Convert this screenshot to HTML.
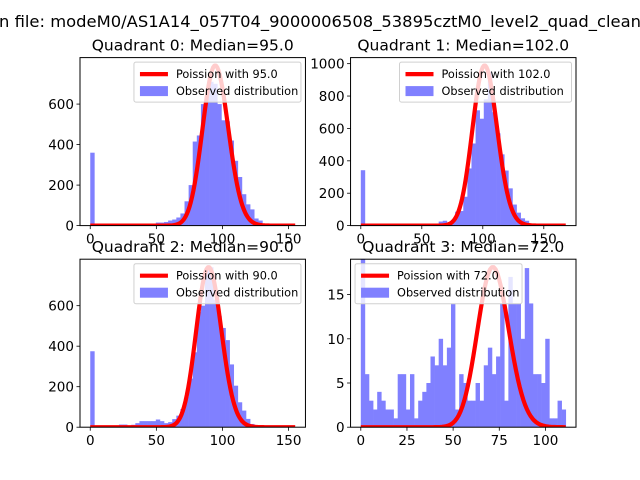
<!DOCTYPE html>
<html><head><meta charset="utf-8"><style>
html,body{margin:0;padding:0;background:#fff;}
svg{display:block;font-family:"DejaVu Sans","Liberation Sans",sans-serif;}
</style></head><body>
<svg id="chart" width="640" height="480" viewBox="0 0 640 480">
<text x="-1" y="27" font-size="16" textLength="642" lengthAdjust="spacingAndGlyphs" fill="#000">n file: modeM0/AS1A14_057T04_9000006508_53895cztM0_level2_quad_clean</text>
</svg>
<script>
const titles = ["Quadrant 0: Median=95.0","Quadrant 1: Median=102.0","Quadrant 2: Median=90.0","Quadrant 3: Median=72.0"];
const lambdas = [95, 102, 90, 72];
const curvePeaks = [790, 988, 790, 18.1];
const dataMax = [155, 168, 155, 111];
const counts0 = [360,1,1,1,1,1,1,1,1,1,1,1,1,3,5,8,15,15,18,25,30,40,60,120,200,415,445,600,640,710,700,600,520,515,420,320,240,155,105,80,35,25,10,5,3,1,1,1,1,1];
const counts1 = [342,0,0,0,0,0,0,0,0,0,0,0,0,0,0,0,1,2,10,25,30,15,35,86,90,178,353,507,712,660,780,950,700,570,440,340,230,130,80,45,30,8,3,1,1,1,0,0,0,1];
const counts2 = [375,0,0,0,0,2,8,13,13,5,12,20,30,30,30,30,38,30,20,25,40,57,90,150,240,370,570,600,780,790,630,550,490,430,310,205,123,82,41,16,10,3,2,1,1,0,0,0,0,1];
const counts3 = [20,6,3,2,4,3,2,2,1,6,6,2,6,1,3,4,5,8,7,10,7,9,14,2,6,5,3,3,5,3,7,9,6,8,14,3,17,14,14,10,18,14,6,6,5,10,1,1,3,2];
const yTicks0 = [0,200,400,600];
const yTicks1 = [0,200,400,600,800,1000];
const yTicks2 = [0,200,400,600];
const yTicks3 = [0,5,10,15];
const xTicks0 = [0,50,100,150];
const xTicks1 = [0,50,100,150];
const xTicks2 = [0,50,100,150];
const xTicks3 = [0,25,50,75,100];

const allCounts=[counts0,counts1,counts2,counts3];
const allY=[yTicks0,yTicks1,yTicks2,yTicks3];
const allX=[xTicks0,xTicks1,xTicks2,xTicks3];
const NS="http://www.w3.org/2000/svg";
const svg=document.getElementById('chart');
const boxes=[[80,57.6],[350.55,57.6],[80,259.2],[350.55,259.2]];
const W=225.45,H=168;
function mk(t,a,p){const e=document.createElementNS(NS,t);for(const k in a)e.setAttribute(k,a[k]);(p||svg).appendChild(e);return e;}
function lgamma(z){let s=0;while(z<7){s-=Math.log(z);z+=1;}const z2=1/(z*z);return s+(z-0.5)*Math.log(z)-z+0.9189385332+(1/12-z2*(1/360-z2/1260))/z;}
function pmf(k,l){return Math.exp(k*Math.log(l)-l-lgamma(k+1));}

for(let q=0;q<4;q++){
  const [L,T]=boxes[q];
  const xm=dataMax[q], x0=-0.05*xm, x1=xm*1.05;
  const ymax=curvePeaks[q]*1.05;
  const sx=v=>L+(v-x0)/(x1-x0)*W;
  const sy=v=>T+H-v/ymax*H;
  const g=mk('g',{});
  
  
  const cp=mk('clipPath',{id:'cp'+q},g);
  mk('rect',{x:L,y:T,width:W,height:H},cp);
  const plot=mk('g',{'clip-path':'url(#cp'+q+')'},g);
  const c=allCounts[q], n=c.length, bw=xm/n;
  for(let i=0;i<n;i++){
    if(c[i]<=0)continue;
    const r=mk('rect',{x:sx(i*bw),y:sy(c[i]),width:sx((i+1)*bw)-sx(i*bw)+0.3,height:sy(0)-sy(c[i]),fill:'#8080ff'},plot);
    
    
  }
  const l=lambdas[q], pk=pmf(Math.floor(l),l);
  let d='';
  for(let k=0;k<=Math.floor(xm);k++){d+=(k?'L':'M')+sx(k).toFixed(2)+' '+sy(pmf(k,l)/pk*curvePeaks[q]).toFixed(2);}
  const pl=mk('path',{d:d,fill:'none',stroke:'#ff0000','stroke-width':4.2,'stroke-linejoin':'round'},plot);
  
  
  const fr=mk('rect',{x:L,y:T,width:W,height:H,fill:'none',stroke:'#000','stroke-width':1},g);
  
  
  for(const v of allY[q]){
    const y=sy(v);
    mk('line',{x1:L-3.5,x2:L,y1:y,y2:y,stroke:'#000','stroke-width':0.8},g);
    const t=mk('text',{x:L-6,y:y+5,'text-anchor':'end','font-size':13.5},g);t.textContent=v;
    
    
  }
  for(const v of allX[q]){
    const x=sx(v);
    mk('line',{x1:x,x2:x,y1:T+H,y2:T+H+3.5,stroke:'#000','stroke-width':0.8},g);
    const t=mk('text',{x:x,y:T+H+18,'text-anchor':'middle','font-size':13.5},g);t.textContent=v;
    
    
  }
  const tt=mk('text',{x:L+W/2,y:T-7,'text-anchor':'middle','font-size':15.5},g);tt.textContent=titles[q];
  
  
  const lw=q===1?172:167, lh=40;
  const lx=q===3?L+4.5:L+W-4.5-lw, ly=T+4.5;
  const lg=mk('g',{},g);
  
  
  mk('rect',{x:lx,y:ly,width:lw,height:lh,rx:2,fill:'rgba(255,255,255,0.8)',stroke:'#d0d0d0','stroke-width':1},lg);
  mk('line',{x1:lx+6,x2:lx+34,y1:ly+12,y2:ly+12,stroke:'#ff0000','stroke-width':4.2},lg);
  mk('rect',{x:lx+6,y:ly+24,width:28,height:10,fill:'#8080ff'},lg);
  const t1=mk('text',{x:lx+42,y:ly+16,'font-size':11.3},lg);t1.textContent='Poission with '+lambdas[q].toFixed(1);
  
  
  const t2=mk('text',{x:lx+42,y:ly+33,'font-size':11.3},lg);t2.textContent='Observed distribution';
  
  
}
</script>
</body></html>
